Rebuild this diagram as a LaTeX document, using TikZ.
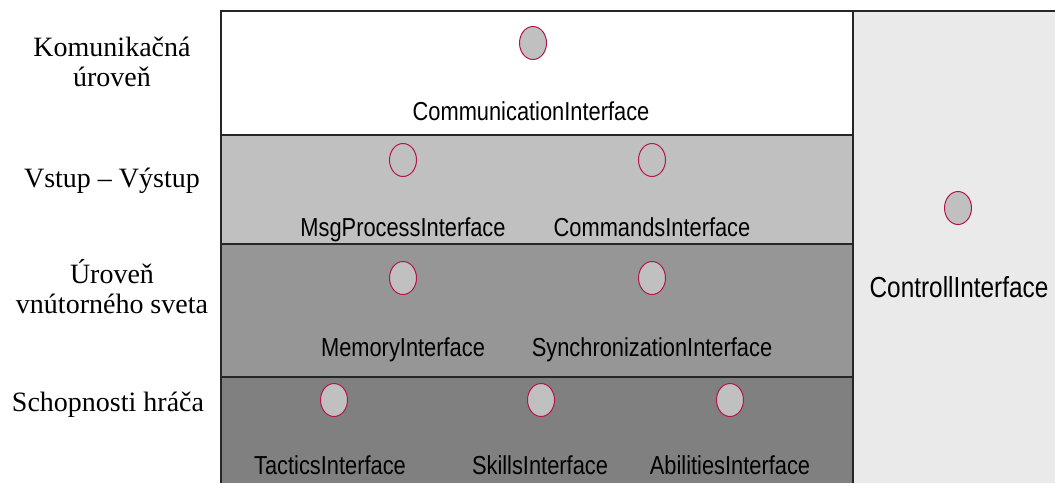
\documentclass[tikz,border=0pt]{standalone}
\usepackage{fontspec}
\setmainfont{Liberation Serif}
\newfontfamily\ifacefont[FakeStretch=0.84]{Liberation Sans}
\definecolor{rowA}{HTML}{FFFFFF}
\definecolor{rowB}{HTML}{C0C0C0}
\definecolor{rowC}{HTML}{969696}
\definecolor{rowD}{HTML}{808080}
\definecolor{ctrlbg}{HTML}{EAEAEA}
\definecolor{lollipop}{HTML}{B8124A}
\definecolor{lollifill}{HTML}{C0C0C0}
\tikzset{
  iface/.style={ellipse, draw=lollipop, line width=1pt, fill=lollifill,
    minimum width=27pt, minimum height=33pt, inner sep=0pt},
  ilabel/.style={font=\ifacefont\fontsize{26}{28}\selectfont, inner sep=0pt,
    anchor=base, text=black},
  layerlabel/.style={font=\fontsize{28}{30}\selectfont, align=center, inner sep=0pt},
  grid/.style={draw=black!85, line width=1.3pt}
}
\usetikzlibrary{shapes.geometric}
\begin{document}
\begin{tikzpicture}[x=1pt,y=-1pt]
\useasboundingbox (0,0) rectangle (1055,483);
\fill[white] (0,0) rectangle (1055,483);
% layer bands
\fill[rowA] (221,11) rectangle (853,135);
\fill[rowB] (221,135) rectangle (853,244);
\fill[rowC] (221,244) rectangle (853,377);
\fill[rowD] (221,377) rectangle (853,483);
\fill[ctrlbg] (853,11) rectangle (1055,483);
% frame lines
\draw[grid] (221,483) -- (221,11) -- (1055,11);
\draw[grid] (853,11) -- (853,483);
\draw[grid] (221,135) -- (853,135);
\draw[grid] (221,244) -- (853,244);
\draw[grid] (221,377) -- (853,377);
% layer names
\node[layerlabel] (lk) at (112,62) {Komunikačná\\úroveň};
\node[layerlabel] (lv) at (112,181) {Vstup – Výstup};
\node[layerlabel] (lu) at (112,287) {Úroveň\\vnútorného sveta};
\node[layerlabel] (ls) at (108,405) {Schopnosti hráča};
% communication layer
\node[iface] (comm) at (533,43) {};
\node[ilabel] (commL) at (531,120) {CommunicationInterface};
% input / output layer
\node[iface] (msg) at (403,160) {};
\node[ilabel] (msgL) at (403,236) {MsgProcessInterface};
\node[iface] (cmd) at (652,160) {};
\node[ilabel] (cmdL) at (652,236) {CommandsInterface};
% inner world layer
\node[iface] (mem) at (403,278) {};
\node[ilabel] (memL) at (403,356) {MemoryInterface};
\node[iface] (sync) at (652,278) {};
\node[ilabel] (syncL) at (652,356) {SynchronizationInterface};
% player skills layer
\node[iface] (tac) at (334,400) {};
\node[ilabel] (tacL) at (330,474) {TacticsInterface};
\node[iface] (skl) at (541,400) {};
\node[ilabel] (sklL) at (540,474) {SkillsInterface};
\node[iface] (abl) at (730,400) {};
\node[ilabel] (ablL) at (730,474) {AbilitiesInterface};
% control column
\node[iface] (ctrl) at (958,208) {};
\node[ilabel, font=\ifacefont\fontsize{29}{31}\selectfont] (ctrlL) at (959,297) {ControllInterface};
\end{tikzpicture}
\end{document}
